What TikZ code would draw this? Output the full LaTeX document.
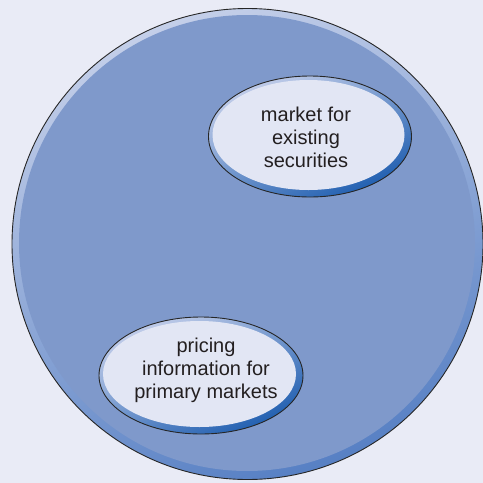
\documentclass[tikz,border=0pt]{standalone}
\usepackage{fontspec}
\setmainfont{Liberation Sans}
\usepackage{tikz}
\usetikzlibrary{calc}

\definecolor{bgpage}{HTML}{E9EBF6}
\definecolor{discfill}{HTML}{7F99CB}
\definecolor{discrimtop}{HTML}{C4CFE9}
\definecolor{discrimbot}{HTML}{5780C4}
\definecolor{ovalfill}{HTML}{E2E6F4}
\definecolor{ovalrimtop}{HTML}{C3CEEA}
\definecolor{ovalrimbot}{HTML}{1F5EB0}
\definecolor{inktext}{HTML}{231F20}

\tikzset{
  label/.style = {align=center, text=inktext, inner sep=0pt,
                  font=\fontsize{20}{23}\selectfont},
  rimline/.style = {line width = 0.9pt, black!85},
}

\begin{document}
\begin{tikzpicture}[x=1pt, y=-1pt]
        \useasboundingbox[fill = bgpage](0,0)rectangle(483,483);
        % big disc
        \shade[top color = discrimtop, bottom color = discrimbot, shading angle = 20](247.5,244)circle(235.5);
        \path[fill = discfill](247,243)circle(228);
        \draw[rimline](247.5,244)circle(235.5);
        % upper oval
        \shade[top color = ovalrimtop, bottom color = ovalrimbot, shading angle = 25](310,136.5)ellipse[x radius = 101.5, y radius = 60.5];
        \path[fill = ovalfill](308.5,135)ellipse[x radius = 96, y radius = 55];
        \draw[rimline](310,136.5)ellipse[x radius = 101.5, y radius = 60.5];
        % lower oval
        \shade[top color = ovalrimtop, bottom color = ovalrimbot, shading angle = 25](201,375.5)ellipse[x radius = 102, y radius = 58.5];
        \path[fill = ovalfill](199.5,374)ellipse[x radius = 96.5, y radius = 53];
        \draw[rimline](201,375.5)ellipse[x radius = 102, y radius = 58.5];
        \node[label] (existing) at (306,137) {market for\\existing\\securities};
        \node[label] (pricing) at (206,370) {pricing\\information for\\primary markets};
    \end{tikzpicture}
\end{document}
